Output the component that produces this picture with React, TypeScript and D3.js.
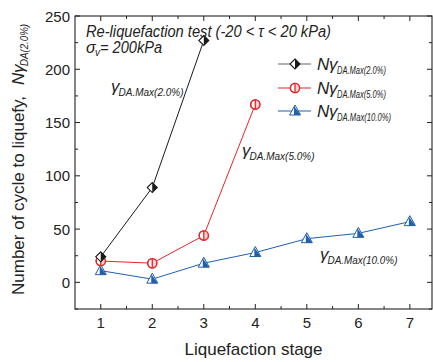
import React from "react";
import * as d3 from "d3";

const stages2 = [1, 2, 3];
const n2 = [24, 89, 227];
const stages5 = [1, 2, 3, 4];
const n5 = [20, 18, 44, 167];
const stages10 = [1, 2, 3, 4, 5, 6, 7];
const n10 = [11, 3, 18, 28, 41, 46, 57];
const xTicks = [1, 2, 3, 4, 5, 6, 7];
const yTicks = [0, 50, 100, 150, 200, 250];

const W = 433, H = 362;
const FONT = "'Liberation Sans', Arial, sans-serif";
const BLACK = "#1a1a1a", RED = "#e8262b", BLUE = "#1f5fad";

const x = d3.scaleLinear().domain([0.5, 7.43]).range([75, 432]);
const y = d3.scaleLinear().domain([-25, 250]).range([309, 16]);

function Diamond({ cx, cy }: { cx: number; cy: number }) {
  const s = 5;
  return (
    <g>
      <path d={`M${cx},${cy - s}L${cx + s},${cy}L${cx},${cy + s}L${cx - s},${cy}Z`} fill="#fff" stroke={BLACK} strokeWidth={1.1} />
      <path d={`M${cx},${cy - s}L${cx + s},${cy}L${cx},${cy + s}Z`} fill={BLACK} />
    </g>
  );
}
function Circ({ cx, cy }: { cx: number; cy: number }) {
  const r = 4.6;
  return (
    <g>
      <circle cx={cx} cy={cy} r={r} fill="#fff" stroke={RED} strokeWidth={1.3} />
      <path d={`M${cx},${cy - r}A${r},${r} 0 0 1 ${cx},${cy + r}Z`} fill="#fbd0d0" />
      <circle cx={cx} cy={cy} r={r} fill="none" stroke={RED} strokeWidth={1.3} />
      <line x1={cx} x2={cx} y1={cy - r} y2={cy + r} stroke={RED} strokeWidth={1.3} />
    </g>
  );
}
function Tri({ cx, cy }: { cx: number; cy: number }) {
  const h = 10, w = 11;
  const top = cy - h * 0.6, bot = cy + h * 0.4;
  return (
    <g>
      <path d={`M${cx},${top}L${cx + w / 2},${bot}L${cx - w / 2},${bot}Z`} fill="#fff" stroke={BLUE} strokeWidth={1} />
      <path d={`M${cx - 1},${top + 1}L${cx + w / 2},${bot}L${cx - 1},${bot}Z`} fill={BLUE} />
    </g>
  );
}

function Gamma({ gx, gy, sub, subLen, prefixN }: { gx: number; gy: number; sub: string; subLen: number; prefixN?: boolean }) {
  let cx = gx;
  const parts: React.ReactNode[] = [];
  if (prefixN) {
    parts.push(<text key="n" x={cx} y={gy} fontSize={17} fontStyle="italic" fill="#222">N</text>);
    cx += 12;
  }
  parts.push(<text key="g" x={cx} y={gy} fontSize={17} fontStyle="italic" fill="#222">γ</text>);
  cx += 7.5;
  parts.push(
    <text key="s" x={cx} y={gy + 4} fontSize={11.5} fontStyle="italic" fill="#222" textLength={subLen} lengthAdjust="spacingAndGlyphs">{sub}</text>
  );
  return <g>{parts}</g>;
}

export default function App() {
  const line = d3.line<[number, number]>().x(d => x(d[0])).y(d => y(d[1]));
  const d2 = stages2.map((s, i) => [s, n2[i]] as [number, number]);
  const d5 = stages5.map((s, i) => [s, n5[i]] as [number, number]);
  const d10 = stages10.map((s, i) => [s, n10[i]] as [number, number]);
  const xMinor = xTicks.slice(0, -1).map(t => t + 0.5);
  const yMinor = [-25, 25, 75, 125, 175, 225];
  const [L, R] = x.range();
  const [B, T] = y.range();
  const legend = [
    { c: "#666", M: Diamond, sub: "DA.Max(2.0%)", yy: 64 },
    { c: RED, M: Circ, sub: "DA.Max(5.0%)", yy: 88 },
    { c: BLUE, M: Tri, sub: "DA.Max(10.0%)", yy: 111 },
  ];
  return (
    <svg width={W} height={H} style={{ position: "absolute", left: 0, top: 0, background: "#fff" }} fontFamily={FONT}>
      <rect x={0} y={0} width={W} height={H} fill="#fff" />
      {/* frame */}
      <rect x={L} y={T} width={R - L} height={B - T} fill="none" stroke="#222" strokeWidth={1.1} />
      {/* ticks */}
      {xTicks.map(t => (
        <g key={"xt" + t}>
          <line x1={x(t)} x2={x(t)} y1={B} y2={B - 5} stroke="#222" />
          <line x1={x(t)} x2={x(t)} y1={T} y2={T + 5} stroke="#222" />
          <text x={x(t)} y={328} fontSize={15} textAnchor="middle" fill="#222">{t}</text>
        </g>
      ))}
      {xMinor.map(t => (
        <g key={"xm" + t}>
          <line x1={x(t)} x2={x(t)} y1={B} y2={B - 3} stroke="#222" />
          <line x1={x(t)} x2={x(t)} y1={T} y2={T + 3} stroke="#222" />
        </g>
      ))}
      {yTicks.map(t => (
        <g key={"yt" + t}>
          <line x1={L} x2={L + 5} y1={y(t)} y2={y(t)} stroke="#222" />
          <line x1={R} x2={R - 5} y1={y(t)} y2={y(t)} stroke="#222" />
          <text x={70} y={y(t) + 5.5} fontSize={15} textAnchor="end" fill="#222">{t}</text>
        </g>
      ))}
      {yMinor.map(t => (
        <g key={"ym" + t}>
          <line x1={L} x2={L + 3} y1={y(t)} y2={y(t)} stroke="#222" />
          <line x1={R} x2={R - 3} y1={y(t)} y2={y(t)} stroke="#222" />
        </g>
      ))}
      {/* axis titles */}
      <text x={(L + R) / 2 + 0} y={355} fontSize={17} textAnchor="middle" fill="#222">Liquefaction stage</text>
      <g transform="translate(24,295) rotate(-90)">
        <text x={0} y={0} fontSize={17} fill="#222">Number of cycle to liquefy,</text>
        <text x={210} y={0} fontSize={17} fontStyle="italic" fill="#222">N</text>
        <text x={222} y={0} fontSize={17} fontStyle="italic" fill="#222">γ</text>
        <text x={229} y={4} fontSize={11} fontStyle="italic" fill="#222" textLength={42} lengthAdjust="spacingAndGlyphs">DA(2.0%)</text>
      </g>
      {/* lines */}
      <path d={line(d2) || ""} fill="none" stroke={BLACK} strokeWidth={1} />
      <path d={line(d5) || ""} fill="none" stroke={RED} strokeWidth={1} />
      <path d={line(d10) || ""} fill="none" stroke={BLUE} strokeWidth={1} />
      {d10.map((d, i) => <Tri key={"t" + i} cx={x(d[0])} cy={y(d[1])} />)}
      {d5.map((d, i) => <Circ key={"c" + i} cx={x(d[0])} cy={y(d[1])} />)}
      {d2.map((d, i) => <Diamond key={"d" + i} cx={x(d[0])} cy={y(d[1])} />)}
      {/* annotations */}
      <text x={86} y={37} fontSize={16} fontStyle="italic" fill="#222" textLength={245} lengthAdjust="spacingAndGlyphs">Re-liquefaction test (-20 &lt; τ &lt; 20 kPa)</text>
      <text x={86} y={53} fontSize={16} fontStyle="italic" fill="#222">σ</text>
      <text x={95} y={56} fontSize={10} fontStyle="italic" fill="#222">v</text>
      <text x={100} y={53} fontSize={16} fontStyle="italic" fill="#222" textLength={62} lengthAdjust="spacingAndGlyphs">= 200kPa</text>
      <Gamma gx={111} gy={92} sub="DA.Max(2.0%)" subLen={65} />
      <Gamma gx={242} gy={156} sub="DA.Max(5.0%)" subLen={65} />
      <Gamma gx={320} gy={260} sub="DA.Max(10.0%)" subLen={70} />
      {/* legend */}
      {legend.map(l => (
        <g key={l.sub}>
          <line x1={278} x2={311} y1={l.yy} y2={l.yy} stroke={l.c} strokeWidth={1.2} />
          <l.M cx={295} cy={l.yy} />
          <text x={317} y={l.yy + 6} fontSize={17} fontStyle="italic" fill="#222">N</text>
          <text x={329} y={l.yy + 6} fontSize={17} fontStyle="italic" fill="#222">γ</text>
          <text x={337} y={l.yy + 10} fontSize={10.5} fontStyle="italic" fill="#222" textLength={l.sub.length > 12 ? 54 : 49} lengthAdjust="spacingAndGlyphs">{l.sub}</text>
        </g>
      ))}
    </svg>
  );
}
